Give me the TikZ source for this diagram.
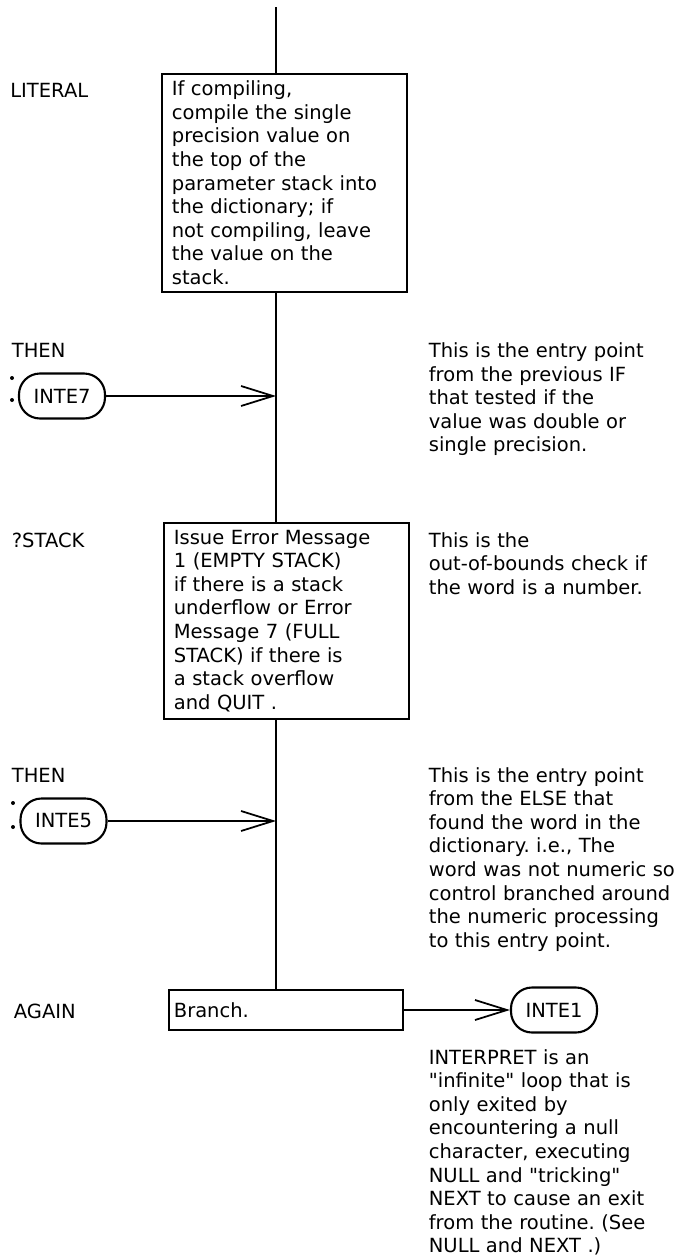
\documentclass[tikz,border=0pt]{standalone}
\usepackage{fontspec}
\setmainfont{DejaVu Sans}
\usetikzlibrary{arrows.meta}
\frenchspacing

\begin{document}
\begin{tikzpicture}[line width=1pt, >={Straight Barb[length=0.64cm,width=0.4cm]},
    every node/.style={font=\fontsize{11.1}{13.43}\selectfont},
    wordbox/.style={draw, rectangle, text width=4.5cm, inner xsep=0.2cm, inner ysep=0.14cm, align=left, anchor=north west},
    entry/.style={draw, line width=1.2pt, rounded corners=0.42cm, minimum width=1.72cm, minimum height=0.9cm, inner sep=0pt},
    tag/.style={anchor=base west, inner sep=0pt},
    remark/.style={anchor=base west, inner sep=0pt, text width=5.3cm, align=left}]
  \useasboundingbox (0,0) rectangle (13.48,-25.16);

  % ==================== LITERAL ====================
  \coordinate (top) at (5.52,-0.14);
  \node[tag] (tlit) at (0.19,-1.94) {LITERAL};
  \node[wordbox] (lit) at (3.22,-1.46) {If compiling,\\ compile the single\\ precision value on\\ the top of the\\ parameter stack into\\ the dictionary; if\\ not compiling, leave\\ the value on the\\ stack.};
  \draw (top) -- (top |- lit.north);

  % ==================== THEN (INTE7) ====================
  \node[tag] (tthen1) at (0.22,-7.15) {THEN};
  \fill (0.24,-7.56) circle (0.04) (0.24,-8.0) circle (0.04);
  \node[entry] (inte7) at (1.24,-7.92) {INTE7};
  \node[remark] (rm1) at (8.56,-7.15) {This is the entry point\\ from the previous IF\\ that tested if the\\ value was double or\\ single precision.};

  % ==================== ?STACK ====================
  \node[tag] (tstk) at (0.22,-10.94) {?STACK};
  \node[wordbox] (stk) at (3.26,-10.44) {Issue Error Message\\ 1 (EMPTY STACK)\\ if there is a stack\\ underflow or Error\\ Message 7 (FULL\\ STACK) if there is\\ a stack overflow\\ and QUIT .};
  \node[remark] (rm2) at (8.56,-10.94) {This is the\\ out-of-bounds check if\\ the word is a number.};
  \draw (top |- lit.south) -- (top |- stk.north);
  \draw[->] (inte7.east) -- (inte7.east -| top);

  % ==================== THEN (INTE5) ====================
  \node[tag] (tthen2) at (0.22,-15.64) {THEN};
  \fill (0.26,-16.06) circle (0.04) (0.26,-16.54) circle (0.04);
  \node[entry] (inte5) at (1.27,-16.42) {INTE5};
  \node[remark] (rm3) at (8.56,-15.64) {This is the entry point\\ from the ELSE that\\ found the word in the\\ dictionary. i.e., The\\ word was not numeric so\\ control branched around\\ the numeric processing\\ to this entry point.};

  % ==================== AGAIN ====================
  \node[tag] (tagain) at (0.26,-20.36) {AGAIN};
  \node[draw, anchor=west, minimum width=4.68cm, minimum height=0.8cm, text width=4.48cm, inner xsep=0.1cm, align=left] (br) at (3.36,-20.2) {Branch.};
  \node[entry] (inte1) at (11.08,-20.2) {INTE1};
  \node[remark] (rm4) at (8.56,-21.28) {INTERPRET is an\\ \textquotedbl infinite\textquotedbl{} loop that is\\ only exited by\\ encountering a null\\ character, executing\\ NULL and \textquotedbl tricking\textquotedbl\\ NEXT to cause an exit\\ from the routine. (See\\ NULL and NEXT .)};
  \draw (top |- stk.south) -- (top |- br.north);
  \draw[->] (inte5.east) -- (inte5.east -| top);
  \draw[->] (br.east) -- (inte1.west);
\end{tikzpicture}
\end{document}
